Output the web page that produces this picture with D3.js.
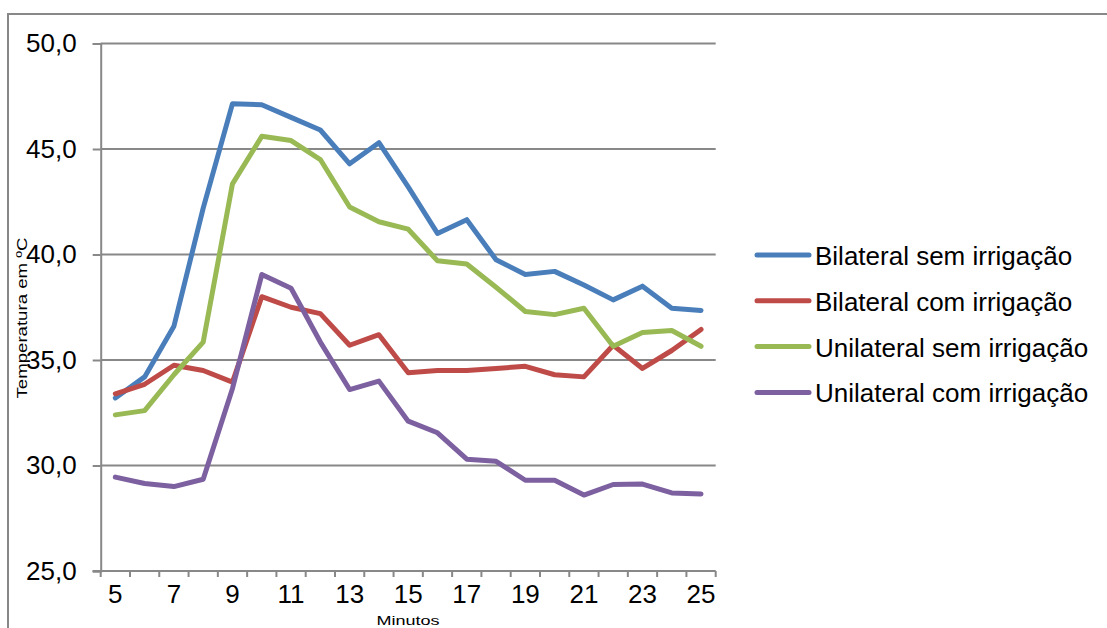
<!DOCTYPE html>
<html>
<head>
<meta charset="utf-8">
<script src="https://cdn.jsdelivr.net/npm/d3@7"></script>
<style>
  html, body { margin: 0; padding: 0; background: #fff; }
  svg { display: block; font-family: "Liberation Sans", Arial, sans-serif; }
</style>
</head>
<body>
<svg id="chart" width="1107" height="628"></svg>
<script>
// Minutes of measurement
const minutes = [5, 6, 7, 8, 9, 10, 11, 12, 13, 14, 15, 16, 17, 18, 19, 20, 21, 22, 23, 24, 25];

// Temperature (ºC) for each treatment
const bilateralSem = [33.2, 34.2, 36.6, 42.2, 47.15, 47.1, 46.5, 45.9, 44.3, 45.3, 43.2, 41.0, 41.65, 39.75, 39.05, 39.2, 38.55, 37.85, 38.5, 37.45, 37.35];
const bilateralCom = [33.4, 33.85, 34.75, 34.5, 33.95, 38.0, 37.5, 37.2, 35.7, 36.2, 34.4, 34.5, 34.5, 34.6, 34.7, 34.3, 34.2, 35.7, 34.6, 35.45, 36.45];
const unilateralSem = [32.4, 32.6, 34.3, 35.85, 43.35, 45.6, 45.4, 44.5, 42.25, 41.55, 41.2, 39.7, 39.55, 38.45, 37.3, 37.15, 37.45, 35.65, 36.3, 36.4, 35.65];
const unilateralCom = [29.45, 29.15, 29.0, 29.35, 33.65, 39.05, 38.4, 35.85, 33.6, 34.0, 32.1, 31.55, 30.3, 30.2, 29.3, 29.3, 28.6, 29.1, 29.12, 28.7, 28.65];

const seriesNames = ["Bilateral sem irrigação", "Bilateral com irrigação", "Unilateral sem irrigação", "Unilateral com irrigação"];
const seriesColors = ["#4a7ebb", "#be4b48", "#98b954", "#7d60a0"];
const yTicks = [25, 30, 35, 40, 45, 50];

const series = [bilateralSem, bilateralCom, unilateralSem, unilateralCom].map((vals, i) => ({
  name: seriesNames[i], color: seriesColors[i], values: vals
}));

const svg = d3.select("#chart");
const gray = "#888888";

const plot = { left: 100.7, right: 715.7, top: 43.5, bottom: 571 };

const x = d3.scaleBand().domain(minutes).range([plot.left, plot.right]).paddingInner(0).paddingOuter(0);
const y = d3.scaleLinear().domain([25, 50]).range([plot.bottom, plot.top]);
const xc = d => x(d) + x.bandwidth() / 2;

// Outer chart frame
svg.append("rect")
  .attr("x", 8).attr("y", 14).attr("width", 1120).attr("height", 640)
  .attr("fill", "none").attr("stroke", gray).attr("stroke-width", 2);

// Horizontal gridlines
svg.append("g")
  .selectAll("line")
  .data(yTicks.filter(v => v > 25))
  .join("line")
  .attr("x1", plot.left).attr("x2", plot.right)
  .attr("y1", d => y(d)).attr("y2", d => y(d))
  .attr("stroke", gray).attr("stroke-width", 2);

// Y axis
const yAxis = svg.append("g")
  .attr("transform", `translate(${plot.left},0)`)
  .call(d3.axisLeft(y).tickValues(yTicks).tickSize(8).tickPadding(16)
    .tickFormat(d => d.toFixed(1).replace(".", ",")));
yAxis.select(".domain").attr("stroke", gray).attr("stroke-width", 2);
yAxis.selectAll(".tick line").attr("stroke", gray).attr("stroke-width", 2);
yAxis.selectAll(".tick text")
  .attr("fill", "#000").attr("font-size", 26)
  .attr("font-family", "'Liberation Sans', Arial, sans-serif");

// X axis: labels on every other minute, tick marks between categories
const xAxis = svg.append("g")
  .attr("transform", `translate(0,${plot.bottom})`)
  .call(d3.axisBottom(x).tickSize(0).tickPadding(14)
    .tickFormat(d => (d % 2 === 1 ? d : "")));
xAxis.select(".domain").remove();
xAxis.selectAll(".tick text")
  .attr("fill", "#000").attr("font-size", 26)
  .attr("font-family", "'Liberation Sans', Arial, sans-serif");

const bounds = minutes.map(m => x(m)).concat([plot.right]);
svg.append("line")
  .attr("x1", plot.left - 8).attr("x2", plot.right)
  .attr("y1", plot.bottom).attr("y2", plot.bottom)
  .attr("stroke", gray).attr("stroke-width", 2);
svg.append("g").selectAll("line")
  .data(bounds)
  .join("line")
  .attr("x1", d => d).attr("x2", d => d)
  .attr("y1", plot.bottom).attr("y2", plot.bottom + 6)
  .attr("stroke", gray).attr("stroke-width", 2);

// Series lines
const line = d3.line()
  .x((d, i) => xc(minutes[i]))
  .y(d => y(d));

svg.append("g")
  .selectAll("path")
  .data(series)
  .join("path")
  .attr("d", d => line(d.values))
  .attr("fill", "none")
  .attr("stroke", d => d.color)
  .attr("stroke-width", 5)
  .attr("stroke-linejoin", "round")
  .attr("stroke-linecap", "round");

// Axis titles
svg.append("text")
  .attr("transform", "translate(27,318) rotate(-90)")
  .attr("text-anchor", "middle")
  .attr("font-size", 14)
  .attr("textLength", 161)
  .attr("lengthAdjust", "spacingAndGlyphs")
  .text("Temperatura em ºC");

svg.append("text")
  .attr("x", 408).attr("y", 625)
  .attr("text-anchor", "middle")
  .attr("font-size", 13)
  .attr("textLength", 63)
  .attr("lengthAdjust", "spacingAndGlyphs")
  .text("Minutos");

// Legend
const legend = svg.append("g");
const items = legend.selectAll("g")
  .data(series)
  .join("g")
  .attr("transform", (d, i) => `translate(0,${255 + i * 45.8})`);
items.append("line")
  .attr("x1", 757).attr("x2", 809)
  .attr("stroke", d => d.color).attr("stroke-width", 5)
  .attr("stroke-linecap", "round");
items.append("text")
  .attr("x", 815).attr("y", 10)
  .attr("font-size", 26)
  .attr("fill", "#000")
  .text(d => d.name);
</script>
</body>
</html>
